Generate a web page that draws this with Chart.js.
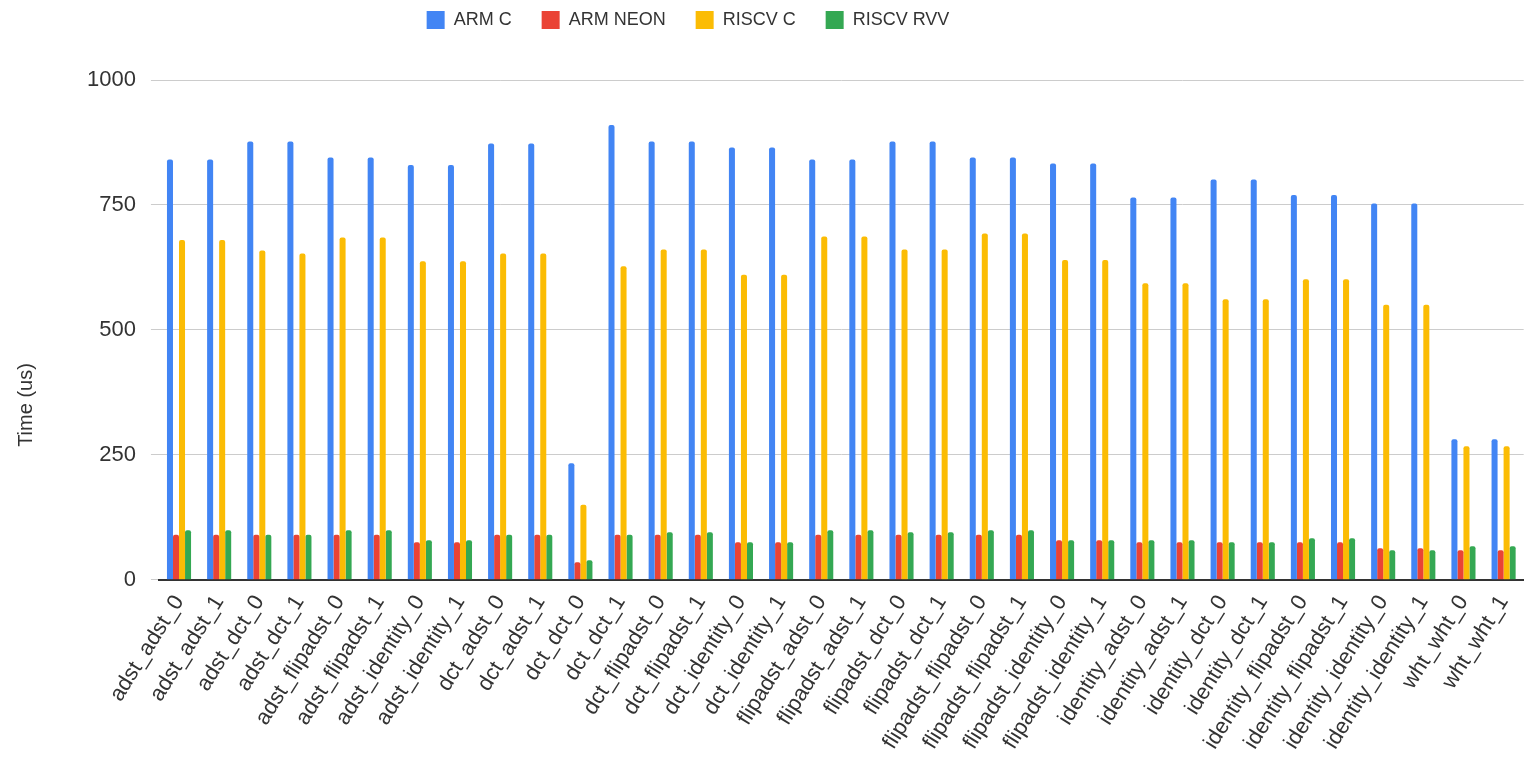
<!DOCTYPE html>
<html>
<head>
<meta charset="utf-8">
<script src="https://cdn.jsdelivr.net/npm/chart.js@4.4.1/dist/chart.umd.min.js"></script>
<style>
html, body { margin: 0; padding: 0; background: #fff; }
#wrap { width: 1529px; height: 769px; position: relative; }
</style>
</head>
<body>
<div id="wrap"><canvas id="chart"></canvas></div>
<script>
const categories = [
    'adst_adst_0', 'adst_adst_1', 'adst_dct_0', 'adst_dct_1', 'adst_flipadst_0', 'adst_flipadst_1',
    'adst_identity_0', 'adst_identity_1', 'dct_adst_0', 'dct_adst_1', 'dct_dct_0', 'dct_dct_1',
    'dct_flipadst_0', 'dct_flipadst_1', 'dct_identity_0', 'dct_identity_1', 'flipadst_adst_0',
    'flipadst_adst_1', 'flipadst_dct_0', 'flipadst_dct_1', 'flipadst_flipadst_0', 'flipadst_flipadst_1',
    'flipadst_identity_0', 'flipadst_identity_1', 'identity_adst_0', 'identity_adst_1', 'identity_dct_0',
    'identity_dct_1', 'identity_flipadst_0', 'identity_flipadst_1', 'identity_identity_0',
    'identity_identity_1', 'wht_wht_0', 'wht_wht_1'
];

const armC = [841, 841, 877, 877, 845, 845, 830, 830, 873, 873, 233, 910, 877, 877, 865, 865, 841,
    841, 877, 877, 845, 845, 833, 833, 765, 765, 801, 801, 770, 770, 753, 753, 281, 281];
const armNeon = [90, 90, 90, 90, 90, 90, 75, 75, 90, 90, 35, 90, 90, 90, 75, 75, 90,
    90, 90, 90, 90, 90, 79, 79, 75, 75, 75, 75, 75, 75, 63, 63, 59, 59];
const riscvC = [680, 680, 659, 653, 685, 685, 637, 637, 653, 653, 150, 627, 661, 661, 610, 610, 687,
    687, 661, 661, 693, 693, 640, 640, 593, 593, 561, 561, 601, 601, 550, 550, 267, 267];
const riscvRvv = [99, 99, 90, 90, 99, 99, 79, 79, 90, 90, 39, 90, 95, 95, 75, 75, 99,
    99, 95, 95, 99, 99, 79, 79, 79, 79, 75, 75, 83, 83, 59, 59, 67, 67];

const yTicks = [0, 250, 500, 750, 1000];

const FONT = "'Liberation Sans', Arial, sans-serif";
Chart.defaults.font.family = FONT;
Chart.defaults.color = '#444';

// axis title is centred lower than the axis itself, like the original
const yTitle = {
    id: 'yTitle',
    afterDraw(chart) {
        const ctx = chart.ctx;
        ctx.save();
        ctx.translate(26, 405);
        ctx.rotate(-Math.PI / 2);
        ctx.font = '20px ' + FONT;
        ctx.fillStyle = '#333';
        ctx.textAlign = 'center';
        ctx.textBaseline = 'middle';
        ctx.fillText('Time (us)', 0, 0);
        ctx.restore();
    }
};

// legend: keep its reserved space (gap above the plot) but draw it higher and a bit left
const legendShift = {
    id: 'legendShift',
    afterLayout(chart) {
        const lg = chart.legend;
        lg.right = 2 * 688 - lg.left;
        lg.top -= 41;
        lg.bottom -= 41;
    }
};

const bar = (label, data, color) => ({
    label,
    data,
    backgroundColor: color,
    borderRadius: 2,
    categoryPercentage: 0.6,
    barPercentage: 1.0
});

new Chart(document.getElementById('chart'), {
    type: 'bar',
    data: {
        labels: categories,
        datasets: [
            bar('ARM C', armC, '#4285f4'),
            bar('ARM NEON', armNeon, '#ea4335'),
            bar('RISCV C', riscvC, '#fbbc04'),
            bar('RISCV RVV', riscvRvv, '#34a853')
        ]
    },
    options: {
        responsive: true,
        maintainAspectRatio: false,
        animation: false,
        layout: { padding: { left: 72, right: 1, top: 22, bottom: 12 } },
        plugins: {
            legend: {
                position: 'top',
                labels: {
                    boxWidth: 18,
                    boxHeight: 18,
                    padding: 30,
                    color: '#333',
                    font: { size: 18 }
                }
            },
            tooltip: { enabled: false }
        },
        scales: {
            x: {
                grid: { display: false },
                border: { color: '#333', width: 2 },
                ticks: {
                    autoSkip: false,
                    maxRotation: 58,
                    minRotation: 58,
                    color: '#333',
                    font: { size: 22 }
                }
            },
            y: {
                min: 0,
                max: 1000,
                afterBuildTicks: s => { s.ticks = yTicks.map(v => ({ value: v })); },
                grid: { color: '#cccccc', tickLength: 8 },
                border: { display: false },
                ticks: {
                    padding: 15,
                    color: '#333',
                    font: { size: 22 },
                    callback: v => String(v)
                }
            }
        }
    },
    plugins: [yTitle, legendShift]
});
</script>
</body>
</html>
